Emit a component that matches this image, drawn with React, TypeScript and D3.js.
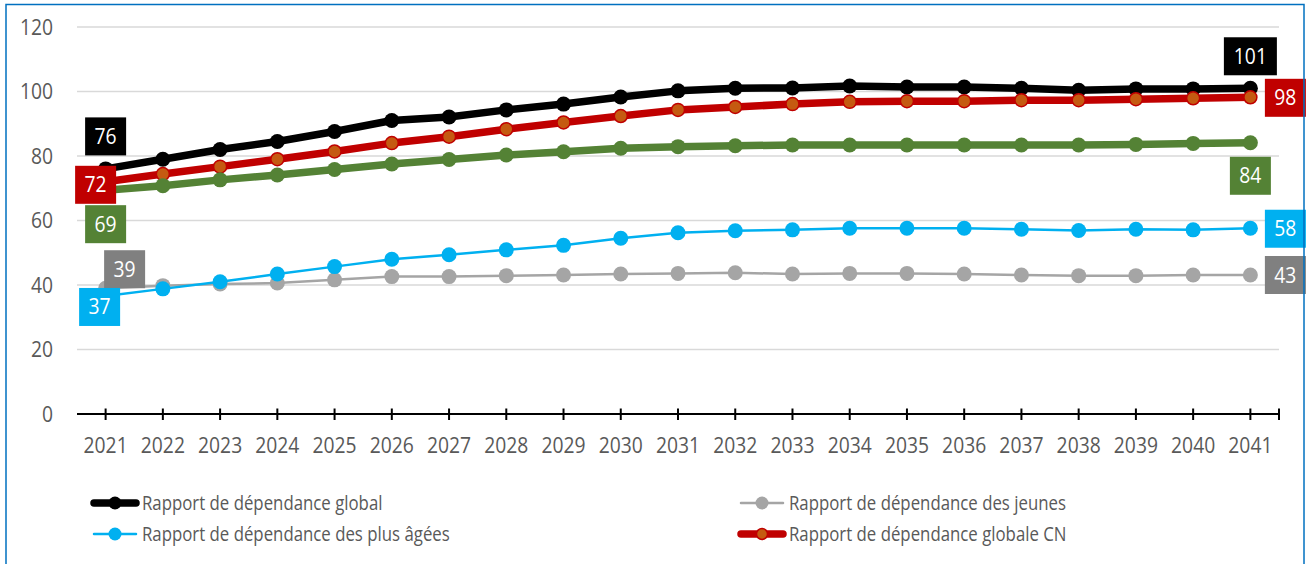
import React from "react";
import * as d3 from "d3";

const years = ["2021","2022","2023","2024","2025","2026","2027","2028","2029","2030","2031","2032","2033","2034","2035","2036","2037","2038","2039","2040","2041"];
const globalRatio = [76, 79, 82, 84.5, 87.6, 91, 92.1, 94.3, 96.1, 98.3, 100.2, 101, 101.1, 101.7, 101.4, 101.4, 101, 100.4, 100.8, 100.8, 101];
const youngRatio = [39, 39.8, 40.3, 40.6, 41.6, 42.6, 42.6, 42.9, 43.1, 43.4, 43.6, 43.8, 43.4, 43.6, 43.6, 43.4, 43.1, 42.9, 42.9, 43.1, 43.1];
const elderRatio = [36.6, 38.8, 41, 43.4, 45.7, 48, 49.4, 50.9, 52.3, 54.5, 56.2, 56.8, 57.1, 57.6, 57.6, 57.6, 57.3, 56.9, 57.3, 57.1, 57.6];
const globalCN = [72, 74.4, 76.7, 79, 81.4, 84, 86, 88.3, 90.4, 92.4, 94.3, 95.2, 96.1, 96.8, 97, 97, 97.3, 97.3, 97.6, 97.9, 98.2];
const greenSeries = [69.4, 70.8, 72.6, 74.1, 75.8, 77.5, 78.9, 80.3, 81.3, 82.4, 82.9, 83.2, 83.4, 83.4, 83.4, 83.4, 83.4, 83.4, 83.6, 83.9, 84.1];
const yTicks = [0, 20, 40, 60, 80, 100, 120];
const legendLabels = [
  "Rapport de dépendance global",
  "Rapport de dépendance des jeunes",
  "Rapport de dépendance des plus âgées",
  "Rapport de dépendance globale CN",
];

const FONT = "'Open Sans', sans-serif";

function T({ x, y, anchor = "start", size = 21, fill = "#595959", sx = 0.88, children }: any) {
  return (
    <text
      transform={`translate(${x},${y}) scale(${sx},1)`}
      textAnchor={anchor}
      fontSize={size}
      fill={fill}
      fontFamily={FONT}
    >
      {children}
    </text>
  );
}

export default function App() {
  const W = 1307, H = 564;
  const x = d3.scalePoint<string>().domain(years).range([77, 1279]).padding(0.5);
  const y = d3.scaleLinear().domain([0, 120]).range([414, 27]);
  const line = d3.line<number>().x((_, i) => x(years[i])!).y((d) => y(d));

  const series = [
    { key: "global", data: globalRatio, color: "#000000", width: 7.5, r: 7.5, fill: "#000000", stroke: "none", sw: 0 },
    { key: "young", data: youngRatio, color: "#A5A5A5", width: 2.5, r: 7.5, fill: "#A5A5A5", stroke: "none", sw: 0 },
    { key: "elder", data: elderRatio, color: "#00B0F0", width: 2.5, r: 7.5, fill: "#00B0F0", stroke: "none", sw: 0 },
    { key: "cn", data: globalCN, color: "#C00000", width: 7.5, r: 6.5, fill: "#C55A11", stroke: "#C00000", sw: 1.5 },
    { key: "green", data: greenSeries, color: "#548235", width: 7.5, r: 7.5, fill: "#548235", stroke: "none", sw: 0 },
  ];

  const labels = [
    { data: globalRatio, i: 0, bg: "#000000", dx: 0, dy: -32.5 },
    { data: globalCN, i: 0, bg: "#C00000", dx: -10, dy: 3 },
    { data: greenSeries, i: 0, bg: "#548235", dx: 0, dy: 34 },
    { data: youngRatio, i: 0, bg: "#808080", dx: 19, dy: -19 },
    { data: elderRatio, i: 0, bg: "#00B0F0", dx: -6, dy: 11 },
    { data: globalRatio, i: 20, bg: "#000000", dx: 0, dy: -32 },
    { data: globalCN, i: 20, bg: "#C00000", dx: 35, dy: 0.5 },
    { data: greenSeries, i: 20, bg: "#548235", dx: 0, dy: 33 },
    { data: elderRatio, i: 20, bg: "#00B0F0", dx: 35, dy: 0.5 },
    { data: youngRatio, i: 20, bg: "#808080", dx: 35, dy: 0 },
  ];

  const legend = [
    { label: legendLabels[0], s: series[0], lx: 92, ly: 503 },
    { label: legendLabels[2], s: series[2], lx: 92, ly: 534 },
    { label: legendLabels[1], s: series[1], lx: 739, ly: 503 },
    { label: legendLabels[3], s: series[3], lx: 739, ly: 534 },
  ];

  return (
    <svg width={W} height={H} style={{ position: "absolute", left: 0, top: 0, background: "#fff" }}>
      <rect x={0} y={0} width={W} height={H} fill="#fff" />
      {yTicks.filter((t) => t > 0).map((t) => (
        <line key={t} x1={77} x2={1279} y1={y(t)} y2={y(t)} stroke="#D9D9D9" strokeWidth={1.5} />
      ))}
      {yTicks.map((t) => (
        <T key={t} x={53} y={y(t) + 7.5} anchor="end" sx={0.92}>{t}</T>
      ))}
      <line x1={77} x2={1279} y1={y(0)} y2={y(0)} stroke="#000" strokeWidth={2} />
      {years.map((yr) => (
        <line key={yr} x1={x(yr)} x2={x(yr)} y1={y(0) - 5.5} y2={y(0) + 6} stroke="#000" strokeWidth={2} />
      ))}
      <line x1={1279} x2={1279} y1={y(0) - 5.5} y2={y(0) + 6} stroke="#000" strokeWidth={2} />
      {years.map((yr) => (
        <T key={yr} x={x(yr)} y={453} anchor="middle" sx={0.92}>{yr}</T>
      ))}
      {series.map((s) => (
        <g key={s.key}>
          <path d={line(s.data)!} fill="none" stroke={s.color} strokeWidth={s.width} strokeLinejoin="round" />
          {s.data.map((v, i) => (
            <circle key={i} cx={x(years[i])} cy={y(v)} r={s.r} fill={s.fill} stroke={s.stroke} strokeWidth={s.sw} />
          ))}
        </g>
      ))}
      {labels.map((l, k) => {
        const v = l.data[l.i];
        const txt = String(Math.round(v));
        const w = txt.length > 2 ? 53 : 41;
        const cx = x(years[l.i])! + l.dx;
        const cy = y(v) + l.dy;
        return (
          <g key={k}>
            <rect x={cx - w / 2} y={cy - 19} width={w} height={38} fill={l.bg} />
            <T x={cx} y={cy + 7.5} anchor="middle" fill="#fff" sx={0.92}>{txt}</T>
          </g>
        );
      })}
      {legend.map((e, k) => (
        <g key={k}>
          <line x1={e.lx + 2} x2={e.lx + 44} y1={e.ly} y2={e.ly} stroke={e.s.color} strokeWidth={e.s.width} strokeLinecap="round" />
          <circle cx={e.lx + 23} cy={e.ly} r={e.s.r - 1} fill={e.s.fill} stroke={e.s.stroke} strokeWidth={e.s.sw} />
          <T x={e.lx + 50} y={e.ly + 7} size={20.5} sx={0.82}>{e.label}</T>
        </g>
      ))}
      <rect x={6} y={4.5} width={1298} height={H} fill="none" stroke="#0070C0" strokeWidth={1.5} />
    </svg>
  );
}
